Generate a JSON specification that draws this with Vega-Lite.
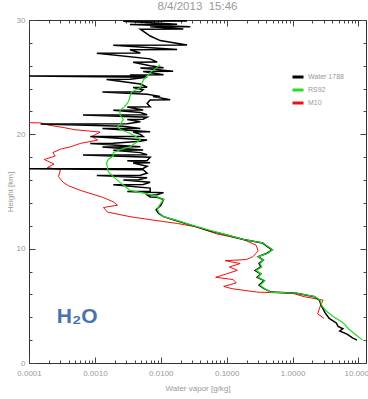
{
  "$schema": "https://vega.github.io/schema/vega-lite/v6.json",
  "width": 337,
  "height": 343,
  "autosize": "none",
  "padding": {"left": 29, "top": 20, "right": 2, "bottom": 36},
  "background": "white",
  "title": {"text": "8/4/2013\u00a0\u00a015:46", "fontSize": 11.5, "color": "#999999", "fontWeight": "normal", "font": "Liberation Sans", "offset": 4, "anchor": "middle"},
  "data": {"values": [
    {"s":"RS92","h":2.0,"v":11.5},{"s":"RS92","h":2.5,"v":9.0},{"s":"RS92","h":3.0,"v":7.0},{"s":"RS92","h":3.5,"v":5.9},{"s":"RS92","h":4.0,"v":4.3},{"s":"RS92","h":4.5,"v":3.3},{"s":"RS92","h":5.0,"v":2.8},{"s":"RS92","h":5.5,"v":2.6},{"s":"RS92","h":5.8,"v":2.2},{"s":"RS92","h":6.1,"v":1.17},{"s":"RS92","h":6.2,"v":0.46},{"s":"RS92","h":6.5,"v":0.38},{"s":"RS92","h":6.8,"v":0.32},{"s":"RS92","h":7.2,"v":0.38},{"s":"RS92","h":7.5,"v":0.3},{"s":"RS92","h":7.8,"v":0.33},{"s":"RS92","h":8.1,"v":0.28},{"s":"RS92","h":8.4,"v":0.34},{"s":"RS92","h":8.7,"v":0.32},{"s":"RS92","h":9.0,"v":0.36},{"s":"RS92","h":9.3,"v":0.3},{"s":"RS92","h":9.6,"v":0.42},{"s":"RS92","h":9.9,"v":0.5},{"s":"RS92","h":10.2,"v":0.42},{"s":"RS92","h":10.5,"v":0.36},{"s":"RS92","h":10.8,"v":0.18},{"s":"RS92","h":11.2,"v":0.1},{"s":"RS92","h":11.6,"v":0.056},{"s":"RS92","h":12.1,"v":0.028},{"s":"RS92","h":12.5,"v":0.017},{"s":"RS92","h":12.8,"v":0.011},{"s":"RS92","h":13.1,"v":0.0095},{"s":"RS92","h":13.4,"v":0.0089},{"s":"RS92","h":13.8,"v":0.0095},{"s":"RS92","h":14.3,"v":0.011},{"s":"RS92","h":14.7,"v":0.0075},{"s":"RS92","h":15.1,"v":0.0034},{"s":"RS92","h":15.5,"v":0.0028},{"s":"RS92","h":15.8,"v":0.0024},{"s":"RS92","h":16.3,"v":0.0019},{"s":"RS92","h":16.7,"v":0.0016},{"s":"RS92","h":17.1,"v":0.00155},{"s":"RS92","h":17.5,"v":0.0015},{"s":"RS92","h":17.8,"v":0.0016},{"s":"RS92","h":18.1,"v":0.0019},{"s":"RS92","h":18.4,"v":0.0019},{"s":"RS92","h":18.7,"v":0.0025},{"s":"RS92","h":18.9,"v":0.0034},{"s":"RS92","h":19.2,"v":0.004},{"s":"RS92","h":19.5,"v":0.0049},{"s":"RS92","h":19.8,"v":0.0042},{"s":"RS92","h":20.1,"v":0.0034},{"s":"RS92","h":20.4,"v":0.0025},{"s":"RS92","h":20.6,"v":0.0022},{"s":"RS92","h":21.0,"v":0.0025},{"s":"RS92","h":21.3,"v":0.0027},{"s":"RS92","h":21.7,"v":0.0024},{"s":"RS92","h":22.1,"v":0.0024},{"s":"RS92","h":22.4,"v":0.0028},{"s":"RS92","h":22.7,"v":0.0031},{"s":"RS92","h":23.0,"v":0.0033},{"s":"RS92","h":23.3,"v":0.0034},{"s":"RS92","h":23.7,"v":0.0036},{"s":"RS92","h":24.1,"v":0.0049},{"s":"RS92","h":24.5,"v":0.0052},{"s":"RS92","h":24.8,"v":0.0055},{"s":"RS92","h":25.1,"v":0.0062},{"s":"RS92","h":25.4,"v":0.0069},{"s":"RS92","h":25.8,"v":0.0085},{"s":"RS92","h":26.1,"v":0.0098},

    {"s":"M10","h":3.9,"v":3.0},{"s":"M10","h":4.3,"v":2.4},{"s":"M10","h":4.9,"v":2.6},{"s":"M10","h":5.5,"v":2.9},{"s":"M10","h":5.8,"v":1.5},{"s":"M10","h":6.1,"v":1.0},{"s":"M10","h":6.2,"v":0.29},{"s":"M10","h":6.5,"v":0.12},{"s":"M10","h":6.7,"v":0.09},{"s":"M10","h":7.0,"v":0.14},{"s":"M10","h":7.3,"v":0.125},{"s":"M10","h":7.5,"v":0.068},{"s":"M10","h":7.8,"v":0.1},{"s":"M10","h":8.1,"v":0.145},{"s":"M10","h":8.4,"v":0.11},{"s":"M10","h":8.7,"v":0.16},{"s":"M10","h":8.95,"v":0.095},{"s":"M10","h":9.05,"v":0.2},{"s":"M10","h":9.3,"v":0.25},{"s":"M10","h":9.8,"v":0.3},{"s":"M10","h":10.3,"v":0.28},{"s":"M10","h":10.8,"v":0.18},{"s":"M10","h":11.3,"v":0.07},{"s":"M10","h":11.9,"v":0.035},{"s":"M10","h":12.2,"v":0.018},{"s":"M10","h":12.5,"v":0.0076},{"s":"M10","h":12.8,"v":0.0034},{"s":"M10","h":13.2,"v":0.00155},{"s":"M10","h":13.6,"v":0.00135},{"s":"M10","h":13.8,"v":0.0022},{"s":"M10","h":14.1,"v":0.0019},{"s":"M10","h":14.5,"v":0.0013},{"s":"M10","h":15.1,"v":0.0006},{"s":"M10","h":15.5,"v":0.0004},{"s":"M10","h":15.8,"v":0.00033},{"s":"M10","h":16.3,"v":0.00028},{"s":"M10","h":16.9,"v":0.0003},{"s":"M10","h":17.1,"v":0.00019},{"s":"M10","h":17.4,"v":0.00024},{"s":"M10","h":17.8,"v":0.00017},{"s":"M10","h":18.1,"v":0.00025},{"s":"M10","h":18.4,"v":0.00023},{"s":"M10","h":18.7,"v":0.0003},{"s":"M10","h":18.9,"v":0.00042},{"s":"M10","h":19.2,"v":0.0006},{"s":"M10","h":19.5,"v":0.0011},{"s":"M10","h":19.8,"v":0.0009},{"s":"M10","h":20.2,"v":0.0012},{"s":"M10","h":20.4,"v":0.0005},{"s":"M10","h":20.6,"v":0.00033},{"s":"M10","h":20.8,"v":0.0002},{"s":"M10","h":21.0,"v":0.00015},{"s":"M10","h":21.02,"v":0.0001},

    {"s":"Water 1788","h":2.0,"v":9.5},{"s":"Water 1788","h":2.2,"v":8.1},{"s":"Water 1788","h":2.5,"v":6.8},{"s":"Water 1788","h":2.8,"v":5.2},{"s":"Water 1788","h":3.0,"v":5.8},{"s":"Water 1788","h":3.2,"v":4.9},{"s":"Water 1788","h":3.5,"v":4.6},{"s":"Water 1788","h":3.9,"v":3.6},{"s":"Water 1788","h":4.4,"v":3.1},{"s":"Water 1788","h":5.0,"v":2.75},{"s":"Water 1788","h":5.5,"v":2.55},{"s":"Water 1788","h":5.8,"v":2.15},{"s":"Water 1788","h":6.1,"v":1.15},{"s":"Water 1788","h":6.2,"v":0.47},{"s":"Water 1788","h":6.5,"v":0.37},{"s":"Water 1788","h":6.8,"v":0.31},{"s":"Water 1788","h":7.2,"v":0.37},{"s":"Water 1788","h":7.5,"v":0.29},{"s":"Water 1788","h":7.8,"v":0.33},{"s":"Water 1788","h":8.1,"v":0.27},{"s":"Water 1788","h":8.4,"v":0.33},{"s":"Water 1788","h":8.7,"v":0.31},{"s":"Water 1788","h":9.0,"v":0.36},{"s":"Water 1788","h":9.3,"v":0.3},{"s":"Water 1788","h":9.6,"v":0.41},{"s":"Water 1788","h":9.9,"v":0.49},{"s":"Water 1788","h":10.2,"v":0.41},{"s":"Water 1788","h":10.5,"v":0.35},{"s":"Water 1788","h":10.8,"v":0.18},{"s":"Water 1788","h":11.2,"v":0.1},{"s":"Water 1788","h":11.6,"v":0.052},{"s":"Water 1788","h":12.1,"v":0.027},{"s":"Water 1788","h":12.5,"v":0.016},{"s":"Water 1788","h":12.8,"v":0.011},{"s":"Water 1788","h":13.1,"v":0.0092},{"s":"Water 1788","h":13.4,"v":0.0085},{"s":"Water 1788","h":13.8,"v":0.01},{"s":"Water 1788","h":14.3,"v":0.011},
    {"s":"Water 1788","h":14.5,"v":0.0088},{"s":"Water 1788","h":14.52,"v":0.0069},{"s":"Water 1788","h":14.7,"v":0.0062},{"s":"Water 1788","h":14.72,"v":0.0088},{"s":"Water 1788","h":14.9,"v":0.011},{"s":"Water 1788","h":15.0,"v":0.0031},{"s":"Water 1788","h":15.02,"v":0.0069},{"s":"Water 1788","h":15.3,"v":0.0069},{"s":"Water 1788","h":15.6,"v":0.0019},{"s":"Water 1788","h":15.62,"v":0.0054},{"s":"Water 1788","h":15.8,"v":0.0069},{"s":"Water 1788","h":16.0,"v":0.0027},{"s":"Water 1788","h":16.02,"v":0.0046},{"s":"Water 1788","h":16.2,"v":0.0062},{"s":"Water 1788","h":16.4,"v":0.00107},{"s":"Water 1788","h":16.42,"v":0.0049},{"s":"Water 1788","h":16.6,"v":0.0062},{"s":"Water 1788","h":16.9,"v":0.0054},{"s":"Water 1788","h":17.0,"v":0.0001},{"s":"Water 1788","h":17.02,"v":0.0054},{"s":"Water 1788","h":17.2,"v":0.0062},{"s":"Water 1788","h":17.5,"v":0.0038},{"s":"Water 1788","h":17.52,"v":0.0069},{"s":"Water 1788","h":17.7,"v":0.0031},{"s":"Water 1788","h":17.72,"v":0.0062},{"s":"Water 1788","h":18.0,"v":0.0069},{"s":"Water 1788","h":18.2,"v":0.00066},{"s":"Water 1788","h":18.22,"v":0.0062},{"s":"Water 1788","h":18.4,"v":0.0049},{"s":"Water 1788","h":18.6,"v":0.0019},{"s":"Water 1788","h":18.62,"v":0.0054},{"s":"Water 1788","h":18.9,"v":0.0013},{"s":"Water 1788","h":18.92,"v":0.0049},{"s":"Water 1788","h":19.2,"v":0.00085},{"s":"Water 1788","h":19.22,"v":0.0019},{"s":"Water 1788","h":19.4,"v":0.0049},{"s":"Water 1788","h":19.5,"v":0.0062},{"s":"Water 1788","h":19.8,"v":0.00085},{"s":"Water 1788","h":19.82,"v":0.0054},{"s":"Water 1788","h":20.0,"v":0.0049},{"s":"Water 1788","h":20.2,"v":0.0038},{"s":"Water 1788","h":20.22,"v":0.0069},{"s":"Water 1788","h":20.5,"v":0.0013},{"s":"Water 1788","h":20.52,"v":0.0049},{"s":"Water 1788","h":20.7,"v":0.0027},{"s":"Water 1788","h":20.9,"v":0.00015},{"s":"Water 1788","h":20.92,"v":0.0031},{"s":"Water 1788","h":21.1,"v":0.0049},{"s":"Water 1788","h":21.3,"v":0.0031},{"s":"Water 1788","h":21.32,"v":0.0054},{"s":"Water 1788","h":21.5,"v":0.0062},{"s":"Water 1788","h":21.7,"v":0.00066},{"s":"Water 1788","h":21.72,"v":0.0062},{"s":"Water 1788","h":21.9,"v":0.0049},{"s":"Water 1788","h":22.1,"v":0.0019},{"s":"Water 1788","h":22.12,"v":0.0054},{"s":"Water 1788","h":22.4,"v":0.0031},{"s":"Water 1788","h":22.42,"v":0.0069},{"s":"Water 1788","h":22.7,"v":0.0062},{"s":"Water 1788","h":23.0,"v":0.0069},{"s":"Water 1788","h":23.02,"v":0.0139},{"s":"Water 1788","h":23.3,"v":0.0076},{"s":"Water 1788","h":23.32,"v":0.0098},{"s":"Water 1788","h":23.5,"v":0.0062},{"s":"Water 1788","h":23.7,"v":0.0013},{"s":"Water 1788","h":23.72,"v":0.0049},{"s":"Water 1788","h":23.9,"v":0.0054},{"s":"Water 1788","h":24.1,"v":0.0038},{"s":"Water 1788","h":24.12,"v":0.0062},{"s":"Water 1788","h":24.4,"v":0.0049},{"s":"Water 1788","h":24.8,"v":0.0015},{"s":"Water 1788","h":24.82,"v":0.0034},{"s":"Water 1788","h":25.0,"v":0.0062},{"s":"Water 1788","h":25.1,"v":0.0001},{"s":"Water 1788","h":25.12,"v":0.0062},{"s":"Water 1788","h":25.2,"v":0.0034},{"s":"Water 1788","h":25.22,"v":0.011},{"s":"Water 1788","h":25.5,"v":0.0054},{"s":"Water 1788","h":25.52,"v":0.0154},{"s":"Water 1788","h":25.8,"v":0.0049},{"s":"Water 1788","h":25.82,"v":0.011},{"s":"Water 1788","h":26.0,"v":0.0069},{"s":"Water 1788","h":26.3,"v":0.0038},{"s":"Water 1788","h":26.32,"v":0.0088},{"s":"Water 1788","h":26.6,"v":0.0069},{"s":"Water 1788","h":27.1,"v":0.00107},{"s":"Water 1788","h":27.12,"v":0.0049},{"s":"Water 1788","h":27.4,"v":0.0034},{"s":"Water 1788","h":27.42,"v":0.0177},{"s":"Water 1788","h":27.8,"v":0.0019},{"s":"Water 1788","h":27.82,"v":0.025},{"s":"Water 1788","h":28.2,"v":0.0098},{"s":"Water 1788","h":28.6,"v":0.0069},{"s":"Water 1788","h":29.2,"v":0.0049},{"s":"Water 1788","h":29.22,"v":0.022},{"s":"Water 1788","h":29.4,"v":0.0069},{"s":"Water 1788","h":29.42,"v":0.028},{"s":"Water 1788","h":29.6,"v":0.0034},{"s":"Water 1788","h":29.62,"v":0.0177},{"s":"Water 1788","h":29.9,"v":0.0027},{"s":"Water 1788","h":29.92,"v":0.025},{"s":"Water 1788","h":30.0,"v":0.011}
  ]},
  "resolve": {"axis": {"x": "independent", "y": "independent"}},
  "layer": [
    {
      "transform": [{"filter": "datum.s === 'M10'"}],
      "mark": {"type": "line", "strokeWidth": 1, "clip": true},
      "encoding": {
        "x": {"field": "v", "type": "quantitative", "scale": {"type": "log", "domain": [0.0001, 13], "nice": false},
          "axis": {"orient": "bottom", "values": [0.0002,0.0003,0.0004,0.0005,0.0006,0.0007,0.0008,0.0009,0.002,0.003,0.004,0.005,0.006,0.007,0.008,0.009,0.02,0.03,0.04,0.05,0.06,0.07,0.08,0.09,0.2,0.3,0.4,0.5,0.6,0.7,0.8,0.9,2,3,4,5,6,7,8,9], "labels": false, "tickSize": -3, "title": null}},
        "y": {"field": "h", "type": "quantitative", "scale": {"domain": [0, 30], "nice": false},
          "axis": {"orient": "left", "values": [2,4,6,8,12,14,16,18,22,24,26,28], "labels": false, "tickSize": -3, "title": null}},
        "order": {"field": "h", "type": "quantitative"},
        "color": {"field": "s", "type": "nominal", "scale": {"domain": ["Water 1788", "RS92", "M10"], "range": ["#000000", "#22dd22", "#ee1111"]},
          "legend": {"orient": "none", "legendX": 262, "legendY": 50, "title": null, "symbolType": "stroke", "symbolStrokeWidth": 3, "symbolSize": 121, "labelFont": "Liberation Sans", "labelFontSize": 7, "labelColor": "#999999", "rowPadding": -2, "labelOffset": 3}}
      }
    },
    {
      "transform": [{"filter": "datum.s === 'Water 1788'"}],
      "mark": {"type": "line", "strokeWidth": 1.5, "clip": true},
      "encoding": {
        "x": {"field": "v", "type": "quantitative", "scale": {"type": "log", "domain": [0.0001, 13], "nice": false},
          "axis": {"orient": "bottom", "values": [0.0001, 0.001, 0.01, 0.1, 1, 10], "labelExpr": "format(datum.value, '.4f')", "tickSize": -6, "labelPadding": 12, "labelFlush": false, "title": "Water vapor [g/kg]", "titlePadding": 7}},
        "y": {"field": "h", "type": "quantitative", "scale": {"domain": [0, 30], "nice": false},
          "axis": {"orient": "left", "values": [0, 10, 20, 30], "tickSize": -6, "labelPadding": 10, "title": "Height [km]", "titlePadding": 2}},
        "order": {"field": "h", "type": "quantitative"},
        "color": {"field": "s", "type": "nominal"}
      }
    },
    {
      "transform": [{"filter": "datum.s === 'RS92'"}],
      "mark": {"type": "line", "strokeWidth": 1.2, "clip": true},
      "encoding": {
        "x": {"field": "v", "type": "quantitative", "scale": {"type": "log", "domain": [0.0001, 13], "nice": false},
          "axis": {"orient": "top", "values": [0.0001, 0.001, 0.01, 0.1, 1, 10], "labels": false, "tickSize": -6, "title": null}},
        "y": {"field": "h", "type": "quantitative", "scale": {"domain": [0, 30], "nice": false},
          "axis": {"orient": "right", "values": [0, 10, 20, 30], "labels": false, "tickSize": -6, "title": null}},
        "order": {"field": "h", "type": "quantitative"},
        "color": {"field": "s", "type": "nominal"}
      }
    },
    {
      "data": {"values": [{"label": "H₂O", "v": 0.00054, "h": 4.0}]},
      "mark": {"type": "text", "fontSize": 21, "fontWeight": "bold", "font": "Liberation Sans", "color": "#4a72b0", "align": "center", "baseline": "middle"},
      "encoding": {
        "x": {"field": "v", "type": "quantitative", "scale": {"type": "log", "domain": [0.0001, 13], "nice": false},
          "axis": {"orient": "top", "values": [0.0002,0.0003,0.0004,0.0005,0.0006,0.0007,0.0008,0.0009,0.002,0.003,0.004,0.005,0.006,0.007,0.008,0.009,0.02,0.03,0.04,0.05,0.06,0.07,0.08,0.09,0.2,0.3,0.4,0.5,0.6,0.7,0.8,0.9,2,3,4,5,6,7,8,9], "labels": false, "tickSize": -3, "title": null}},
        "y": {"field": "h", "type": "quantitative", "scale": {"domain": [0, 30], "nice": false},
          "axis": {"orient": "right", "values": [2,4,6,8,12,14,16,18,22,24,26,28], "labels": false, "tickSize": -3, "title": null}},
        "text": {"field": "label"}
      }
    }
  ],
  "config": {
    "view": {"stroke": "#333333", "strokeWidth": 1},
    "axis": {"domain": false, "grid": false, "labelColor": "#999999", "labelFont": "Liberation Sans", "labelFontSize": 8, "tickColor": "#444444", "titleColor": "#999999", "titleFont": "Liberation Sans", "titleFontSize": 8, "titleFontWeight": "normal"}
  }
}
